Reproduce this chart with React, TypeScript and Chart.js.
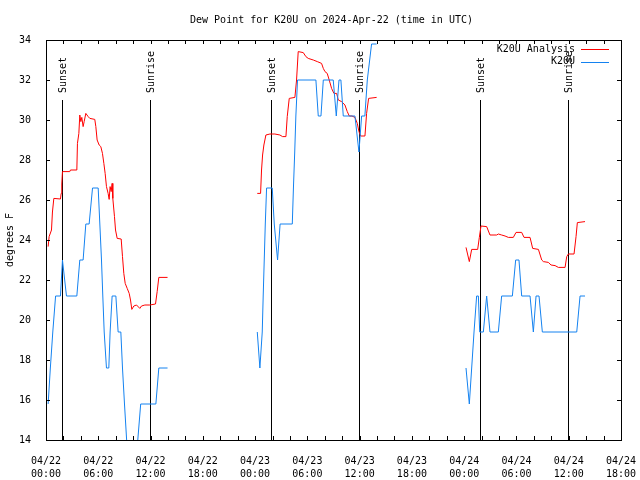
import React, { useEffect, useRef } from "react";
import { Chart, registerables } from "chart.js";

Chart.register(...registerables);

const TITLE = "Dew Point for K20U on 2024-Apr-22 (time in UTC)";
const Y_TITLE = "degrees F";
const SERIES_NAMES = ["K20U Analysis", "K20U"];
const DAY_LABELS = ["04/22", "04/23", "04/24"];
const X_MIN = 0;
const X_MAX = 66;
const Y_MIN = 14;
const Y_MAX = 34;
const SUNSET_HOURS = [1.85, 25.85, 49.85];
const SUNRISE_HOURS = [11.95, 35.95, 59.95];
const SUN_LINE_TOP = 31.0;

// Hours since 04/22 00:00 UTC; null values break the line
const redHours = [
  0.245, 0.36, 0.63, 0.74, 0.9, 1.66, 1.74, 1.81, 1.89, 2.73, 2.81, 3.54, 3.61, 3.77, 3.88, 4.0, 4.11,
  4.26, 4.38, 4.57, 4.84, 5.03, 5.6, 5.72, 5.87, 6.1, 6.29, 6.48, 6.64, 6.79, 6.94, 7.13, 7.25, 7.36,
  7.48, 7.59, 7.67, 7.86, 7.98, 8.17, 8.63, 8.78, 8.93, 9.09, 9.32, 9.55, 9.7, 9.85, 10.08, 10.39,
  10.77, 10.96, 11.35, 11.92, 12.57, 12.76, 12.95, 13.95,
  19.0,
  24.25, 24.63, 24.74, 24.86, 25.01, 25.24, 25.7, 26.27, 26.85, 27.15, 27.54, 27.69, 27.92, 28.57,
  28.76, 28.95, 29.53, 29.83, 30.1, 30.68, 31.14, 31.63, 31.83, 32.02, 32.28, 32.51, 32.78, 33.05,
  33.36, 33.55, 33.93, 34.31, 34.58, 34.81, 35.12, 35.46, 35.73, 35.92, 36.11, 36.61, 36.8, 37.03,
  37.95,
  43.0,
  48.21, 48.59, 48.86, 49.55, 49.74, 49.93, 50.58, 50.96, 51.73, 51.92, 52.3, 52.69, 53.07, 53.64,
  53.95, 54.6, 54.87, 55.56, 55.86, 56.52, 56.9, 57.09, 57.66, 57.97, 58.43, 58.81, 59.58, 59.77,
  59.96, 60.61, 60.84, 60.99, 61.87,
];
const redValues = [
  23.67, 24.17, 24.5, 25.4, 26.08, 26.05, 26.33, 26.8, 27.42, 27.42, 27.5, 27.5, 28.83, 29.33, 30.25,
  29.92, 30.13, 29.67, 29.92, 30.33, 30.17, 30.08, 30.03, 29.67, 29.0, 28.75, 28.67, 28.33, 27.83,
  27.33, 26.67, 26.33, 26.03, 26.67, 26.42, 26.83, 26.08, 25.17, 24.5, 24.08, 24.05, 23.17, 22.33,
  21.83, 21.58, 21.33, 21.0, 20.53, 20.7, 20.75, 20.58, 20.7, 20.75, 20.75, 20.8, 21.42, 22.13, 22.13,
  null,
  26.33, 26.33, 27.5, 28.25, 28.75, 29.25, 29.3, 29.3, 29.25, 29.17, 29.17, 30.17, 31.08, 31.13, 32.0,
  33.42, 33.37, 33.17, 33.08, 33.0, 32.92, 32.83, 32.58, 32.42, 32.33, 32.0, 31.58, 31.33, 31.33,
  31.0, 30.92, 30.75, 30.42, 30.2, 30.2, 30.13, 29.83, 29.42, 29.2, 29.2, 30.33, 31.08, 31.13,
  null,
  23.63, 22.92, 23.53, 23.53, 24.13, 24.7, 24.67, 24.25, 24.25, 24.3, 24.25, 24.2, 24.13, 24.13,
  24.38, 24.38, 24.13, 24.13, 23.58, 23.53, 23.0, 22.92, 22.88, 22.75, 22.72, 22.63, 22.63, 23.17,
  23.3, 23.3, 24.17, 24.87, 24.92,
];

const blueHours = [
  0.245, 0.5, 0.78, 1.1, 1.66, 1.89, 2.35, 3.54, 3.88, 4.26, 4.57, 4.95, 5.34, 5.99, 6.18, 6.37, 6.52,
  6.68, 6.94, 7.21, 7.36, 7.59, 8.02, 8.28, 8.59, 8.78, 9.01, 9.5, 10.2, 10.87, 12.61, 12.95, 13.95,
  19.0,
  24.25, 24.55, 24.82, 24.93, 25.05, 25.17, 25.32, 25.97, 26.2, 26.58, 26.87, 28.27, 28.4, 28.55,
  28.68, 28.87, 30.98, 31.25, 31.56, 31.83, 32.97, 33.32, 33.63, 33.85, 34.12, 35.46, 35.92, 36.23,
  36.6, 36.88, 37.37, 37.95,
  43.0,
  48.21, 48.59, 48.86, 49.13, 49.43, 49.63, 49.78, 50.2, 50.58, 50.96, 51.92, 52.3, 53.53, 53.91,
  54.29, 54.6, 55.56, 55.94, 56.25, 56.59, 56.97, 60.92, 61.3, 61.87,
];
const blueValues = [
  15.8, 17.6, 19.4, 21.2, 21.2, 23.0, 21.2, 21.2, 23.0, 23.0, 24.8, 24.8, 26.6, 26.6, 24.8, 23.0, 21.2,
  19.4, 17.6, 17.6, 19.4, 21.2, 21.2, 19.4, 19.4, 17.6, 15.8, 12.2, 12.2, 15.8, 15.8, 17.6, 17.6,
  null,
  19.4, 17.6, 19.4, 21.2, 23.0, 24.8, 26.6, 26.6, 24.8, 23.0, 24.8, 24.8, 26.6, 28.4, 30.2, 32.0,
  32.0, 30.2, 30.2, 32.0, 32.0, 30.2, 32.0, 32.0, 30.2, 30.2, 28.4, 30.2, 30.2, 32.0, 33.8, 33.8,
  null,
  17.6, 15.8, 17.6, 19.4, 21.2, 21.2, 19.4, 19.4, 21.2, 19.4, 19.4, 21.2, 21.2, 23.0, 23.0, 21.2,
  21.2, 19.4, 21.2, 21.2, 19.4, 19.4, 21.2, 21.2,
];

const RED = "rgb(255,0,0)";
const BLUE = "rgb(20,130,240)";
const FONT_FAMILY = "'DejaVu Sans Mono', 'Liberation Mono', monospace";
const FONT_SIZE = 10;

const toPoints = (xs: number[], ys: (number | null)[]) => xs.map((x, i) => ({ x, y: ys[i] }));

const decorPlugin = {
  id: "decor",
  beforeDatasetsDraw(chart: any) {
    const { ctx, chartArea, scales } = chart;
    const xs = scales.x;
    const ys = scales.y;
    ctx.save();
    ctx.strokeStyle = "#000";
    ctx.lineWidth = 1;
    ctx.fillStyle = "#000";
    ctx.font = `${FONT_SIZE}px ${FONT_FAMILY}`;
    const yTop = Math.round(ys.getPixelForValue(SUN_LINE_TOP));
    const drawSun = (h: number, label: string) => {
      const px = Math.round(xs.getPixelForValue(h)) + 0.5;
      ctx.beginPath();
      ctx.moveTo(px, yTop);
      ctx.lineTo(px, chartArea.bottom);
      ctx.stroke();
      ctx.save();
      ctx.translate(px + 0.5, yTop - 7);
      ctx.rotate(-Math.PI / 2);
      ctx.textAlign = "left";
      ctx.textBaseline = "middle";
      ctx.fillText(label, 0, 0);
      ctx.restore();
    };
    SUNSET_HOURS.forEach((h) => drawSun(h, "Sunset"));
    SUNRISE_HOURS.forEach((h) => drawSun(h, "Sunrise"));
    ctx.restore();
  },
  afterDraw(chart: any) {
    const { ctx, chartArea, scales } = chart;
    const { left, right, top, bottom } = chartArea;
    const xs = scales.x;
    const ys = scales.y;
    ctx.save();
    ctx.strokeStyle = "#000";
    ctx.lineWidth = 1;
    ctx.strokeRect(Math.round(left) + 0.5, Math.round(top) + 0.5, Math.round(right - left), Math.round(bottom - top));
    const tl = 4;
    ctx.beginPath();
    for (let h = X_MIN; h <= X_MAX; h += 2) {
      const px = Math.round(xs.getPixelForValue(h)) + 0.5;
      ctx.moveTo(px, bottom);
      ctx.lineTo(px, bottom - tl);
      ctx.moveTo(px, top);
      ctx.lineTo(px, top + tl);
    }
    for (let v = Y_MIN; v <= Y_MAX; v += 2) {
      const py = Math.round(ys.getPixelForValue(v)) + 0.5;
      ctx.moveTo(left, py);
      ctx.lineTo(left + tl, py);
      ctx.moveTo(right, py);
      ctx.lineTo(right - tl, py);
    }
    ctx.stroke();

    ctx.fillStyle = "#000";
    ctx.font = `${FONT_SIZE}px ${FONT_FAMILY}`;
    ctx.textAlign = "center";
    ctx.textBaseline = "middle";
    ctx.fillText(TITLE, (left + right) / 2 - 2, 20);

    // legend
    const colors = [RED, BLUE];
    const rowsY = [49, 61.5];
    ctx.textAlign = "right";
    SERIES_NAMES.forEach((name, i) => {
      ctx.fillStyle = "#000";
      ctx.fillText(name, right - 46, rowsY[i]);
      ctx.strokeStyle = colors[i];
      ctx.beginPath();
      ctx.moveTo(right - 40, Math.round(rowsY[i]) + 0.5);
      ctx.lineTo(right - 12, Math.round(rowsY[i]) + 0.5);
      ctx.stroke();
    });
    ctx.restore();
  },
};

export default function App() {
  const canvasRef = useRef<HTMLCanvasElement | null>(null);

  useEffect(() => {
    const canvas = canvasRef.current;
    if (!canvas) return;
    const font = { family: FONT_FAMILY, size: FONT_SIZE };
    const chart = new Chart(canvas, {
      type: "line",
      data: {
        datasets: [
          {
            label: SERIES_NAMES[1],
            data: toPoints(blueHours, blueValues),
            borderColor: BLUE,
            borderWidth: 1,
            pointRadius: 0,
            fill: false,
            tension: 0,
            spanGaps: false,
            order: 0,
          },
          {
            label: SERIES_NAMES[0],
            data: toPoints(redHours, redValues),
            borderColor: RED,
            borderWidth: 1,
            pointRadius: 0,
            fill: false,
            tension: 0,
            spanGaps: false,
            order: 1,
          },
        ],
      },
      options: {
        animation: false,
        responsive: false,
        maintainAspectRatio: false,
        parsing: true,
        layout: { padding: { top: 40, right: 19, left: 0, bottom: 0 } },
        plugins: {
          legend: { display: false },
          title: { display: false },
          tooltip: { enabled: false },
        },
        scales: {
          x: {
            type: "linear",
            min: X_MIN,
            max: X_MAX,
            grid: { display: false },
            border: { display: false },
            ticks: {
              stepSize: 6,
              autoSkip: false,
              maxRotation: 0,
              minRotation: 0,
              padding: 7,
              color: "#000",
              font: { ...font, lineHeight: 1.27 },
              callback: (value: any) => {
                const v = Number(value);
                const day = Math.floor(v / 24);
                const hh = v - day * 24;
                return [DAY_LABELS[day] ?? "", `${String(hh).padStart(2, "0")}:00`];
              },
            },
            afterFit: (scale: any) => {
              scale.height = 40;
              scale.paddingLeft = 0;
              scale.paddingRight = 0;
            },
          },
          y: {
            type: "linear",
            min: Y_MIN,
            max: Y_MAX,
            grid: { display: false },
            border: { display: false },
            ticks: { stepSize: 2, padding: 7, color: "#000", font },
            title: { display: true, text: Y_TITLE, color: "#000", font, padding: 4 },
            afterFit: (scale: any) => {
              scale.width = 46;
              scale.paddingTop = 0;
              scale.paddingBottom = 0;
            },
          },
        },
      },
      plugins: [decorPlugin],
    } as any);
    return () => chart.destroy();
  }, []);

  return (
    <div style={{ position: "absolute", left: 0, top: 0, width: 640, height: 480, background: "#fff" }}>
      <canvas ref={canvasRef} width={640} height={480} style={{ width: 640, height: 480, display: "block" }} />
    </div>
  );
}
